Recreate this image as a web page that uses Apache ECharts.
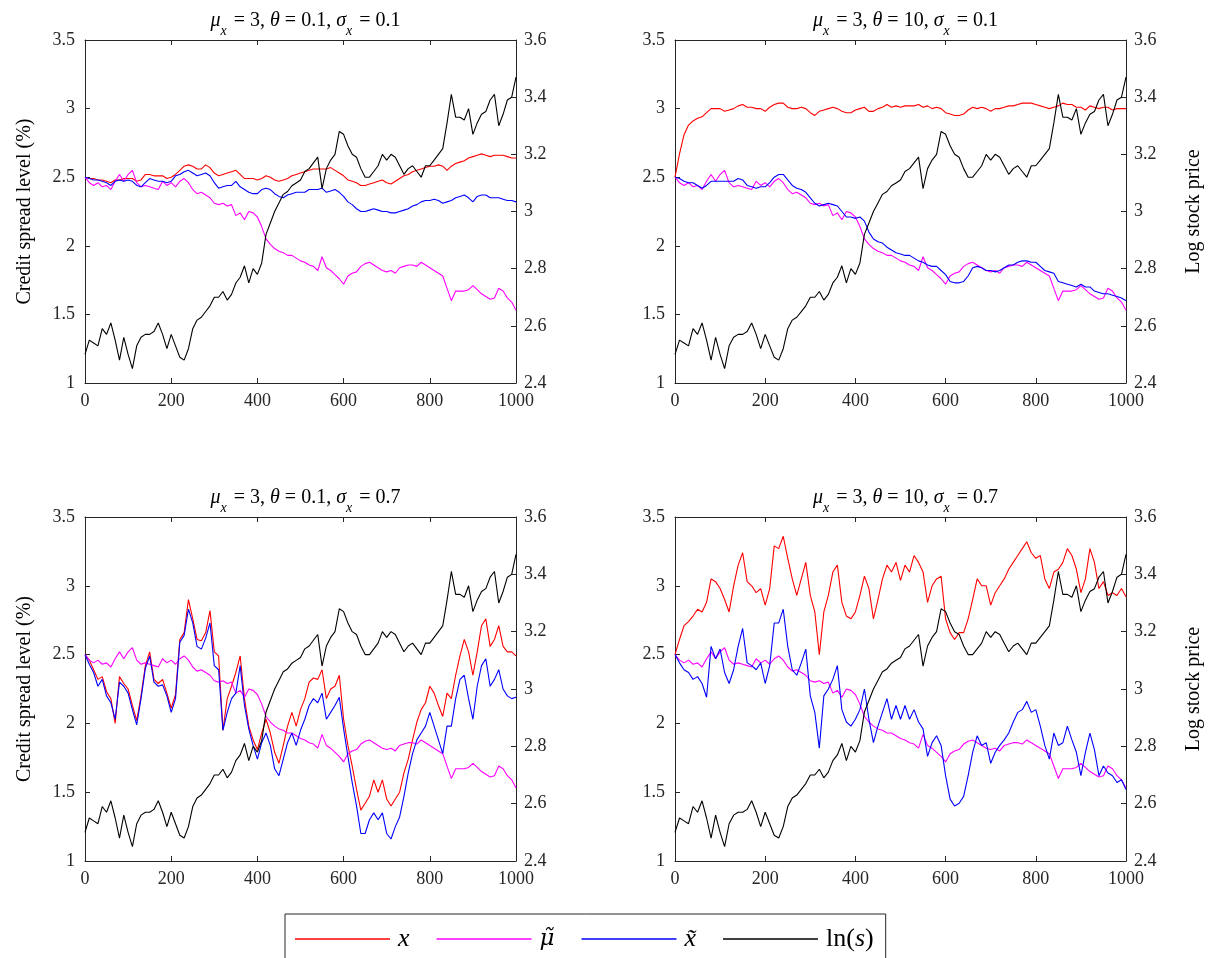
<!DOCTYPE html>
<html><head><meta charset="utf-8">
<script src="https://cdn.jsdelivr.net/npm/echarts@6/dist/echarts.min.js"></script>
<style>html,body{margin:0;padding:0;background:#fff}#c{width:1212px;height:958px}</style>
</head><body><div id="c"></div>
<script>
// ---- data (sampled every 10 steps, t = 0..1000) ----
const xTicks = [0, 200, 400, 600, 800, 1000];
const leftTicks = [1, 1.5, 2, 2.5, 3, 3.5];
const rightTicks = [2.4, 2.6, 2.8, 3.0, 3.2, 3.4, 3.6];
const legendNames = ['x', 'mu', 'xt', 'ln'];
const panelTheta = ['0.1', '10', '0.1', '10'];
const panelSigma = ['0.1', '0.1', '0.7', '0.7'];

const lnS = [2.50,2.55,2.54,2.53,2.59,2.57,2.61,2.55,2.48,2.56,2.50,2.45,2.53,2.56,2.57,2.57,2.58,2.61,2.57,2.52,2.57,2.53,2.49,2.48,2.52,2.59,2.62,2.63,2.65,2.67,2.70,2.70,2.72,2.69,2.71,2.75,2.77,2.81,2.75,2.80,2.78,2.82,2.92,2.96,3.00,3.03,3.06,3.07,3.09,3.10,3.11,
 3.14,3.15,3.17,3.19,3.08,3.15,3.18,3.20,3.28,3.27,3.23,3.20,3.19,3.15,3.12,3.12,3.14,3.16,3.20,3.18,3.20,3.19,3.16,3.13,3.15,3.16,3.14,3.12,3.16,3.16,3.18,3.20,3.22,3.31,3.41,3.33,3.33,3.32,3.36,3.27,3.31,3.34,3.35,3.39,3.41,3.30,3.34,3.39,3.40,3.47];
const muT = [2.50,2.46,2.44,2.46,2.43,2.44,2.41,2.47,2.52,2.47,2.52,2.55,2.46,2.43,2.44,2.43,2.42,2.41,2.47,2.44,2.46,2.43,2.47,2.49,2.46,2.41,2.38,2.39,2.37,2.35,2.31,2.30,2.31,2.29,2.30,2.22,2.24,2.19,2.25,2.24,2.21,2.14,2.05,2.01,1.98,1.96,1.95,1.93,1.93,1.91,1.89,
 1.88,1.86,1.85,1.82,1.92,1.84,1.82,1.79,1.76,1.72,1.78,1.80,1.81,1.85,1.87,1.88,1.86,1.84,1.82,1.81,1.82,1.80,1.84,1.85,1.86,1.86,1.85,1.88,1.86,1.84,1.82,1.80,1.78,1.69,1.60,1.67,1.67,1.67,1.68,1.71,1.68,1.65,1.63,1.61,1.62,1.69,1.67,1.62,1.59,1.53];

const x1 = [2.50,2.49,2.49,2.48,2.48,2.47,2.46,2.48,2.48,2.49,2.49,2.49,2.47,2.48,2.52,2.52,2.51,2.51,2.51,2.49,2.50,2.52,2.55,2.58,2.59,2.58,2.56,2.56,2.59,2.57,2.53,2.51,2.52,2.53,2.54,2.55,2.52,2.49,2.49,2.49,2.48,2.49,2.51,2.50,2.48,2.47,2.48,2.49,2.51,2.52,2.53,
 2.54,2.55,2.56,2.56,2.56,2.56,2.57,2.55,2.53,2.51,2.48,2.47,2.46,2.44,2.44,2.45,2.46,2.47,2.48,2.46,2.45,2.47,2.49,2.51,2.52,2.54,2.55,2.56,2.57,2.58,2.58,2.59,2.58,2.55,2.58,2.60,2.61,2.62,2.64,2.65,2.66,2.67,2.66,2.65,2.66,2.66,2.66,2.65,2.64,2.64];
const xt1 = [2.50,2.49,2.48,2.48,2.47,2.46,2.44,2.47,2.48,2.47,2.48,2.47,2.44,2.43,2.46,2.49,2.48,2.47,2.47,2.46,2.47,2.51,2.52,2.54,2.55,2.53,2.51,2.52,2.53,2.51,2.46,2.42,2.43,2.44,2.44,2.47,2.43,2.41,2.39,2.38,2.38,2.41,2.42,2.41,2.38,2.36,2.35,2.37,2.38,2.39,2.39,
 2.39,2.41,2.41,2.41,2.42,2.39,2.40,2.41,2.39,2.36,2.32,2.30,2.27,2.25,2.25,2.26,2.27,2.26,2.25,2.25,2.24,2.24,2.25,2.26,2.27,2.29,2.30,2.32,2.33,2.33,2.34,2.33,2.31,2.32,2.33,2.35,2.36,2.37,2.35,2.32,2.36,2.37,2.37,2.35,2.35,2.35,2.34,2.33,2.33,2.32];

const x2 = [2.50,2.67,2.81,2.88,2.91,2.93,2.94,2.97,3.00,3.00,3.00,2.98,2.99,3.00,3.02,3.03,3.01,3.01,3.00,3.00,2.98,3.01,3.03,3.04,3.04,3.01,3.00,3.00,3.01,3.00,2.97,2.95,2.98,2.99,3.00,3.01,3.00,2.98,2.97,2.97,2.99,3.00,3.01,2.98,2.98,3.00,3.01,3.03,3.01,3.02,3.01,
 3.02,3.02,3.02,3.03,3.01,3.02,3.00,3.01,3.00,2.97,2.96,2.95,2.95,2.96,2.99,3.01,3.00,3.01,3.00,2.98,3.00,3.00,3.01,3.02,3.02,3.03,3.04,3.04,3.04,3.03,3.02,3.01,3.00,3.01,3.02,3.04,3.03,3.03,3.01,3.01,2.99,3.02,3.01,3.00,3.01,3.01,2.99,3.00,3.00,3.00];
const xt2 = [2.50,2.49,2.47,2.46,2.46,2.44,2.42,2.44,2.47,2.47,2.47,2.47,2.47,2.47,2.49,2.48,2.44,2.43,2.42,2.43,2.43,2.46,2.50,2.52,2.52,2.48,2.44,2.42,2.41,2.39,2.35,2.31,2.29,2.30,2.31,2.30,2.29,2.25,2.21,2.21,2.20,2.21,2.18,2.10,2.05,2.03,2.02,1.99,1.97,1.95,1.94,
 1.93,1.93,1.91,1.89,1.88,1.86,1.85,1.85,1.82,1.79,1.74,1.73,1.73,1.74,1.78,1.84,1.85,1.84,1.82,1.82,1.81,1.82,1.84,1.86,1.86,1.88,1.89,1.89,1.88,1.88,1.85,1.82,1.81,1.80,1.74,1.73,1.72,1.71,1.70,1.72,1.70,1.70,1.67,1.66,1.65,1.65,1.64,1.63,1.62,1.60];

const x3 = [2.50,2.46,2.39,2.32,2.34,2.23,2.18,2.00,2.34,2.29,2.25,2.13,2.02,2.20,2.42,2.52,2.32,2.29,2.32,2.22,2.11,2.21,2.61,2.66,2.90,2.76,2.61,2.60,2.66,2.82,2.52,2.49,1.95,2.18,2.27,2.37,2.49,2.18,1.98,1.88,1.81,1.93,2.03,1.93,1.79,1.71,1.84,1.98,2.08,1.98,2.10,
 2.18,2.30,2.33,2.32,2.39,2.18,2.25,2.27,2.35,2.03,1.84,1.69,1.52,1.37,1.42,1.47,1.59,1.50,1.59,1.45,1.40,1.45,1.50,1.64,1.74,1.88,2.01,2.10,2.15,2.27,2.22,2.13,2.05,2.22,2.18,2.35,2.49,2.61,2.52,2.35,2.52,2.71,2.76,2.56,2.61,2.71,2.56,2.52,2.52,2.49];
const xt3 = [2.50,2.43,2.37,2.27,2.32,2.20,2.15,2.03,2.30,2.27,2.22,2.10,1.99,2.18,2.40,2.49,2.30,2.27,2.28,2.20,2.08,2.18,2.59,2.64,2.83,2.73,2.56,2.54,2.62,2.73,2.42,2.39,1.95,2.08,2.18,2.22,2.42,2.13,1.96,1.84,1.74,1.86,1.93,1.84,1.67,1.62,1.74,1.86,1.93,1.84,1.95,
 2.03,2.13,2.18,2.15,2.22,2.03,2.08,2.13,2.19,1.96,1.76,1.57,1.40,1.20,1.20,1.30,1.35,1.30,1.35,1.20,1.16,1.25,1.32,1.47,1.64,1.78,1.88,1.93,1.98,2.08,1.98,1.88,1.78,1.98,1.98,2.18,2.32,2.35,2.18,2.03,2.27,2.42,2.47,2.27,2.32,2.39,2.25,2.20,2.18,2.19];

const x4 = [2.50,2.61,2.71,2.74,2.78,2.83,2.81,2.88,3.05,3.03,2.98,2.90,2.81,3.00,3.15,3.24,3.03,3.00,2.95,2.98,2.86,2.98,3.29,3.27,3.36,3.20,3.05,2.93,3.05,3.17,2.93,2.81,2.50,2.81,2.93,3.10,3.15,2.88,2.78,2.76,2.81,2.93,3.07,2.98,2.76,2.90,3.05,3.15,3.10,3.17,3.04,
 3.15,3.10,3.22,3.17,3.10,2.88,3.00,3.05,3.07,2.76,2.66,2.61,2.66,2.66,2.76,2.90,3.05,3.00,3.00,2.86,2.95,3.00,3.05,3.12,3.17,3.22,3.27,3.32,3.24,3.20,3.22,3.05,2.98,3.10,3.12,3.17,3.27,3.22,3.12,2.95,3.05,3.27,3.17,2.98,3.03,2.93,2.95,2.93,2.98,2.92];
const xt4 = [2.50,2.44,2.39,2.37,2.32,2.34,2.29,2.19,2.56,2.47,2.54,2.37,2.29,2.39,2.56,2.69,2.44,2.42,2.39,2.44,2.29,2.42,2.73,2.73,2.83,2.56,2.39,2.35,2.44,2.54,2.20,2.08,1.82,2.20,2.25,2.32,2.42,2.10,2.01,1.98,2.03,2.10,2.25,2.03,1.86,1.98,2.08,2.18,2.03,2.13,2.03,
 2.13,2.03,2.10,2.01,1.96,1.76,1.86,1.91,1.84,1.62,1.45,1.40,1.42,1.47,1.62,1.79,1.91,1.84,1.86,1.71,1.79,1.84,1.88,1.93,2.01,2.08,2.10,2.16,2.08,2.10,1.98,1.84,1.74,1.93,1.84,1.86,1.98,1.88,1.79,1.62,1.79,1.93,1.81,1.62,1.69,1.64,1.62,1.57,1.59,1.52];

const xSeries = [x1, x2, x3, x4];
const xtSeries = [xt1, xt2, xt3, xt4];

// ---- build ----
const steps = [];
for (let i = 0; i < lnS.length; i++) steps.push(i * 10);
const pair = arr => arr.map((v, i) => [steps[i], v]);

const FONT = '"Liberation Serif", "DejaVu Serif", serif';
const AX = '#262626';
const grids = [
  {left: 85, top: 40, width: 431, height: 343},
  {left: 675, top: 40, width: 451, height: 343},
  {left: 85, top: 517, width: 431, height: 344},
  {left: 675, top: 517, width: 451, height: 344}
];

const xAxis = [], yAxis = [], series = [], titles = [];
const fmt1 = v => String(Math.round(v * 10) / 10);
const fmtInt = v => String(Math.round(v));

grids.forEach((g, k) => {
  xAxis.push({
    type: 'value', gridIndex: k, position: 'bottom',
    min: xTicks[0], max: xTicks[xTicks.length - 1], interval: xTicks[1] - xTicks[0],
    axisLine: {show: true, onZero: false, lineStyle: {color: AX, width: 1}},
    axisTick: {show: true, inside: true, length: 5, lineStyle: {color: AX}},
    axisLabel: {color: AX, fontFamily: FONT, fontSize: 18, margin: 9, formatter: fmtInt},
    splitLine: {show: false}
  });
  xAxis.push({
    type: 'value', gridIndex: k, position: 'top',
    min: xTicks[0], max: xTicks[xTicks.length - 1], interval: xTicks[1] - xTicks[0],
    axisLine: {show: true, onZero: false, lineStyle: {color: AX, width: 1}},
    axisTick: {show: true, inside: true, length: 5, lineStyle: {color: AX}},
    axisLabel: {show: false}, splitLine: {show: false}
  });
  const leftName = (k % 2 === 0) ? 'Credit spread level (%)' : '';
  const rightName = (k % 2 === 1) ? 'Log stock price' : '';
  yAxis.push({
    type: 'value', gridIndex: k, position: 'left',
    min: leftTicks[0], max: leftTicks[leftTicks.length - 1], interval: leftTicks[1] - leftTicks[0],
    name: leftName, nameLocation: 'middle', nameGap: 50,
    nameTextStyle: {color: '#000', fontFamily: FONT, fontSize: 20},
    axisLine: {show: true, onZero: false, lineStyle: {color: AX, width: 1}},
    axisTick: {show: true, inside: true, length: 5, lineStyle: {color: AX}},
    axisLabel: {color: AX, fontFamily: FONT, fontSize: 18, margin: 10, formatter: fmt1},
    splitLine: {show: false}
  });
  yAxis.push({
    type: 'value', gridIndex: k, position: 'right',
    min: rightTicks[0], max: rightTicks[rightTicks.length - 1], interval: 0.2,
    name: rightName, nameLocation: 'middle', nameGap: 58,
    nameTextStyle: {color: '#000', fontFamily: FONT, fontSize: 20},
    axisLine: {show: true, onZero: false, lineStyle: {color: AX, width: 1}},
    axisTick: {show: true, inside: true, length: 5, lineStyle: {color: AX}},
    axisLabel: {color: AX, fontFamily: FONT, fontSize: 18, margin: 8, formatter: fmt1},
    splitLine: {show: false}
  });
  const base = {type: 'line', xAxisIndex: 2 * k, showSymbol: false, symbol: 'none', animation: false, smooth: false};
  series.push(Object.assign({}, base, {name: 'x', yAxisIndex: 2 * k, data: pair(xSeries[k]), lineStyle: {color: '#ff0000', width: 1.1}, itemStyle: {color: '#ff0000'}}));
  series.push(Object.assign({}, base, {name: 'mu', yAxisIndex: 2 * k, data: pair(muT), lineStyle: {color: '#ff00ff', width: 1.1}, itemStyle: {color: '#ff00ff'}}));
  series.push(Object.assign({}, base, {name: 'xt', yAxisIndex: 2 * k, data: pair(xtSeries[k]), lineStyle: {color: '#0000ff', width: 1.1}, itemStyle: {color: '#0000ff'}}));
  series.push(Object.assign({}, base, {name: 'ln', yAxisIndex: 2 * k + 1, data: pair(lnS), lineStyle: {color: '#000000', width: 1.1}, itemStyle: {color: '#000000'}}));

  titles.push({
    text: '{i|μ}{s|x}{n| = 3, }{i|θ}{n| = ' + panelTheta[k] + ', }{i|σ}{s|x}{n| = ' + panelSigma[k] + '}',
    left: g.left + g.width / 2, top: (k < 2) ? 3 : 480, textAlign: 'center',
    textStyle: {
      fontWeight: 'normal',
      rich: {
        i: {fontFamily: FONT, fontStyle: 'italic', fontWeight: 'normal', fontSize: 20, color: '#000', lineHeight: 26, verticalAlign: 'middle'},
        n: {fontFamily: FONT, fontWeight: 'normal', fontSize: 20, color: '#000', lineHeight: 26, verticalAlign: 'middle'},
        s: {fontFamily: FONT, fontStyle: 'italic', fontWeight: 'normal', fontSize: 14, color: '#000', lineHeight: 26, verticalAlign: 'bottom', padding: [0, 2, -4, 0]}
      }
    }
  });
});

const legendLabels = {
  x: '{i|x}',
  mu: '{g|μ̃}',
  xt: '{i|x̃}',
  ln: '{n|ln(}{i|s}{n|)}'
};

const option = {
  backgroundColor: '#fff',
  animation: false,
  title: titles,
  grid: grids.map(g => Object.assign({containLabel: false}, g)),
  xAxis, yAxis, series,
  legend: {
    data: legendNames,
    left: 285, top: 914,
    orient: 'horizontal',
    icon: 'rect',
    itemWidth: 95, itemHeight: 1.5, itemGap: 27,
    padding: [12, 12, 36, 10],
    borderColor: AX, borderWidth: 1,
    backgroundColor: '#fff',
    selectedMode: false,
    formatter: n => legendLabels[n],
    textStyle: {
      padding: [0, 0, 0, 3],
      rich: {
        i: {fontFamily: FONT, fontStyle: 'italic', fontSize: 26, color: '#000'},
        g: {fontFamily: '"DejaVu Serif", serif', fontStyle: 'italic', fontSize: 23, color: '#000'},
        n: {fontFamily: FONT, fontSize: 26, color: '#000'}
      }
    }
  }
};

const chart = echarts.init(document.getElementById('c'), null, {renderer: 'canvas'});
chart.setOption(option);
</script></body></html>
